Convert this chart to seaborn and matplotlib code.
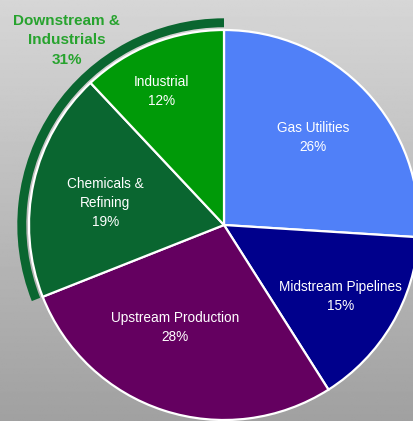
import numpy as np
import matplotlib
matplotlib.use("Agg")
import matplotlib.pyplot as plt
import seaborn as sns

# data
sectors = ['Gas Utilities', 'Midstream Pipelines', 'Upstream Production',
           'Chemicals &\nRefining', 'Industrial']
shares = [26, 15, 28, 19, 12]
group_label = 'Downstream &\nIndustrials'
group_members = ['Chemicals &\nRefining', 'Industrial']

colors = ['#5080f8', '#00008c', '#640060', '#0a6630', '#009a08']
ring_color = '#0a6630'
group_text_color = '#27a32e'

sns.set_theme(style='white')
plt.rcParams['font.family'] = ['Liberation Sans', 'DejaVu Sans']

W, H = 413, 421
cx, cy, R = 224, 225, 195  # pie centre / radius in pixels

fig = plt.figure(figsize=(W / 100, H / 100), dpi=100)

# grey gradient background
bg = fig.add_axes([0, 0, 1, 1])
grad = np.linspace(0.84, 0.63, 256)[:, None] * np.ones((1, 16))
bg.imshow(grad, cmap='gray', vmin=0, vmax=1, aspect='auto', extent=[0, 1, 0, 1])
bg.axis('off')

ax = fig.add_axes([0, 0, 1, 1])
ax.patch.set_alpha(0)

wedges, _ = ax.pie(shares, colors=colors, startangle=90, counterclock=False,
                   radius=1.0, wedgeprops=dict(edgecolor='white', linewidth=1.6))

# outer ring marking the downstream group
group_total = sum(s for n, s in zip(sectors, shares) if n in group_members)
ring, _ = ax.pie([100 - group_total, group_total], colors=['none', ring_color],
                 startangle=90, counterclock=False, radius=1.06,
                 wedgeprops=dict(width=0.046, linewidth=0))

# slice labels
label_r = [0.64, 0.70, 0.58, 0.62, 0.755]
label_off = [1.5, -1.0, -7.5, 2.0, 3.7]
for w, name, s, r, off in zip(wedges, sectors, shares, label_r, label_off):
    a = np.deg2rad((w.theta1 + w.theta2) / 2 + off)
    ax.text(r * np.cos(a), r * np.sin(a), f'{name}\n{s}%', ha='center', va='center',
            color='white', fontsize=9.8, linespacing=1.45)

g = ring[1]
a = np.deg2rad((g.theta1 + g.theta2) / 2 - 15)
ax.text(1.25 * np.cos(a) + 0.01, 1.25 * np.sin(a), f'{group_label}\n{group_total}%',
        ha='center', va='center', color=group_text_color, fontsize=11,
        fontweight='bold', linespacing=1.5)

ax.set_xlim(-cx / R, (W - cx) / R)
ax.set_ylim(-(H - cy) / R, cy / R)
ax.set_aspect('auto')
ax.axis('off')

fig.savefig('out.png', dpi=100)
plt.close()
